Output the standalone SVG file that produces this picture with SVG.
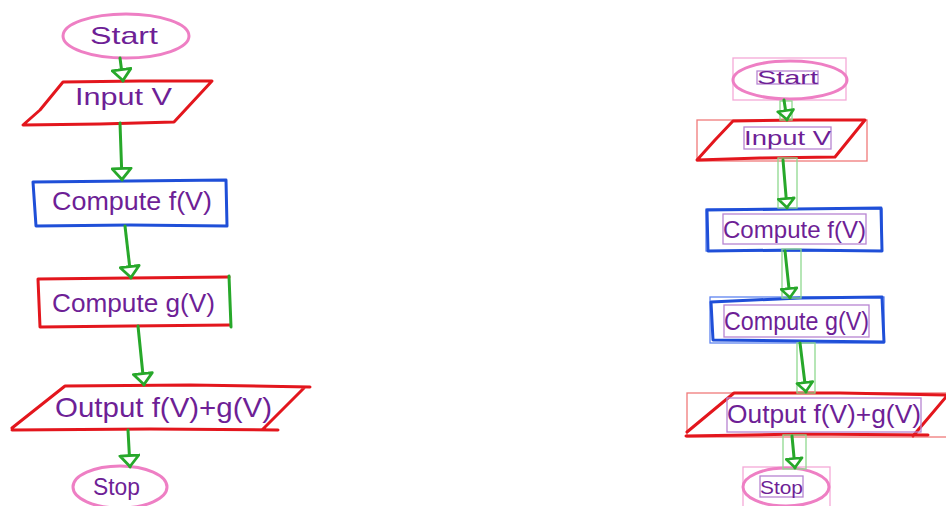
<svg xmlns="http://www.w3.org/2000/svg" width="946" height="506" viewBox="0 0 946 506">
<style>
.pink{fill:none;stroke:#ee7fc4;stroke-width:3;stroke-linecap:round;stroke-linejoin:round}
.red{fill:none;stroke:#e3161d;stroke-width:3;stroke-linecap:round;stroke-linejoin:round}
.blue{fill:none;stroke:#1f4fd8;stroke-width:3;stroke-linecap:round;stroke-linejoin:round}
.green{fill:none;stroke:#27a82a;stroke-width:3;stroke-linecap:round}
.lbl{font-family:"Liberation Sans",Arial,sans-serif;fill:#6e1f96;font-size:22px;text-anchor:start}
.bpink{fill:none;stroke:#f4a9d8;stroke-width:1.3}
.bred{fill:none;stroke:#f07a7a;stroke-width:1.3}
.bblue{fill:none;stroke:#5f84f0;stroke-width:1.3}
.bgreen{fill:none;stroke:#8fd98f;stroke-width:1.3}
.bpurple{fill:none;stroke:#b784d2;stroke-width:1.3}
</style>
<defs>
<marker id="ah" viewBox="0 0 14 22" refX="13" refY="11" markerWidth="14" markerHeight="22" markerUnits="userSpaceOnUse" orient="auto">
<path d="M1.5,1.5 L12.5,11 L1.5,20.5 Z" fill="#fff" stroke="#27a82a" stroke-width="2.8" stroke-linejoin="round"/>
</marker>
<marker id="ahs" viewBox="0 0 12 19" refX="11" refY="9.5" markerWidth="12" markerHeight="19" markerUnits="userSpaceOnUse" orient="auto">
<path d="M1.5,1.5 L10.5,9.5 L1.5,17.5 Z" fill="#fff" stroke="#27a82a" stroke-width="2.6" stroke-linejoin="round"/>
</marker>
</defs>
<rect width="946" height="506" fill="#fff"/>

<!-- Left (hand-drawn) flowchart -->
<g id="l-start">
<ellipse class="pink" cx="126" cy="36" rx="63" ry="22"/>
<text class="lbl" x="90" y="44" textLength="68" lengthAdjust="spacingAndGlyphs" style="font-size:24px">Start</text>
</g>
<g id="l-input">
<path class="red" d="M63,82 L140,81 L212,81 L174,122 L100,124 L23,125 L40,110 Z"/>
<text class="lbl" x="75" y="105" textLength="97" lengthAdjust="spacingAndGlyphs" style="font-size:24px">Input V</text>
</g>
<g id="l-computef">
<path class="blue" d="M33,182 L130,181 L226,180 L227,226 L130,225 L36,226 Z"/>
<text class="lbl" x="52" y="210" textLength="160" lengthAdjust="spacingAndGlyphs" style="font-size:26px">Compute f(V)</text>
</g>
<g id="l-computeg">
<path class="red" d="M229,277 L130,278 L38,279 L40,327 L130,326 L230,325"/>
<path class="green" d="M229,276 L231,327"/>
<text class="lbl" x="52" y="312" textLength="163" lengthAdjust="spacingAndGlyphs" style="font-size:26px">Compute g(V)</text>
</g>
<g id="l-output">
<path class="red" d="M65,386 L190,385 L310,387 M305,387 L263,429 M278,430 L150,429 L12,430 M12,428 L65,386"/>
<text class="lbl" x="55" y="417" textLength="217" lengthAdjust="spacingAndGlyphs" style="font-size:28px">Output f(V)+g(V)</text>
</g>
<g id="l-stop">
<ellipse class="pink" cx="120" cy="487" rx="47" ry="21"/>
<text class="lbl" x="93" y="495" textLength="47" lengthAdjust="spacingAndGlyphs" style="font-size:23px">Stop</text>
</g>

<!-- Right (recognized) flowchart -->
<g id="r-start">
<rect class="bpink" x="733" y="58" width="113" height="42"/>
<ellipse class="pink" cx="790" cy="80" rx="57" ry="19"/>
<rect class="bpurple" x="757" y="71" width="61" height="13"/>
<text class="lbl" x="757" y="84" textLength="61" lengthAdjust="spacingAndGlyphs" style="font-size:18px">Start</text>
</g>
<g id="r-input">
<rect class="bred" x="697" y="120" width="170" height="41"/>
<path class="red" d="M733,121 L800,120 L865,120 L835,157 L760,158 L697,160 L715,140 Z"/>
<rect class="bpurple" x="744" y="127" width="87" height="22"/>
<text class="lbl" x="744" y="145" textLength="87" lengthAdjust="spacingAndGlyphs" style="font-size:20px">Input V</text>
</g>
<g id="r-computef">
<rect class="bblue" x="706" y="209" width="176" height="42"/>
<path class="blue" d="M707,210 L795,209 L881,208 L882,251 L795,250 L708,251 Z"/>
<rect class="bpurple" x="723" y="214" width="143" height="30"/>
<text class="lbl" x="723" y="238" textLength="143" lengthAdjust="spacingAndGlyphs" style="font-size:24px">Compute f(V)</text>
</g>
<g id="r-computeg">
<rect class="bblue" x="710" y="297" width="174" height="46"/>
<path class="blue" d="M711,302 L800,298 L882,297 L884,342 L800,341 L713,340 Z"/>
<rect class="bpurple" x="724" y="305" width="145" height="32"/>
<text class="lbl" x="724" y="330" textLength="145" lengthAdjust="spacingAndGlyphs" style="font-size:25px">Compute g(V)</text>
</g>
<g id="r-output">
<rect class="bred" x="687" y="393" width="262" height="44"/>
<path class="red" d="M734,393 L840,393 L946,395 M946,397 L913,436 M928,435 L800,434 L686,436 M687,432 L734,393"/>
<rect class="bpurple" x="727" y="398" width="194" height="34"/>
<text class="lbl" x="727" y="423" textLength="194" lengthAdjust="spacingAndGlyphs" style="font-size:26px">Output f(V)+g(V)</text>
</g>
<g id="r-stop">
<rect class="bpink" x="743" y="467" width="87" height="40"/>
<ellipse class="pink" cx="786" cy="487" rx="43" ry="19"/>
<rect class="bpurple" x="760" y="476" width="43" height="21"/>
<text class="lbl" x="760" y="494" textLength="43" lengthAdjust="spacingAndGlyphs" style="font-size:18px">Stop</text>
</g>

<!-- Connectors -->
<g id="connectors">
<path class="green" d="M120,58 L123,81" marker-end="url(#ah)"/>
<path class="green" d="M120,123 L122,180" marker-end="url(#ah)"/>
<path class="green" d="M125,226 L131,278" marker-end="url(#ah)"/>
<path class="green" d="M138,326 L144,385" marker-end="url(#ah)"/>
<path class="green" d="M128,430 L130,467" marker-end="url(#ah)"/>

<rect class="bgreen" x="780" y="101" width="12" height="19"/>
<rect class="bgreen" x="778" y="158" width="19" height="50"/>
<rect class="bgreen" x="782" y="249" width="19" height="49"/>
<rect class="bgreen" x="797" y="343" width="18" height="50"/>
<rect class="bgreen" x="783" y="435" width="23" height="34"/>
<path class="green" d="M784,100 L787,120" marker-end="url(#ahs)"/>
<path class="green" d="M783,160 L787,208" marker-end="url(#ahs)"/>
<path class="green" d="M785,251 L790,298" marker-end="url(#ahs)"/>
<path class="green" d="M800,343 L806,392" marker-end="url(#ahs)"/>
<path class="green" d="M792,436 L795,468" marker-end="url(#ahs)"/>
</g>
</svg>
